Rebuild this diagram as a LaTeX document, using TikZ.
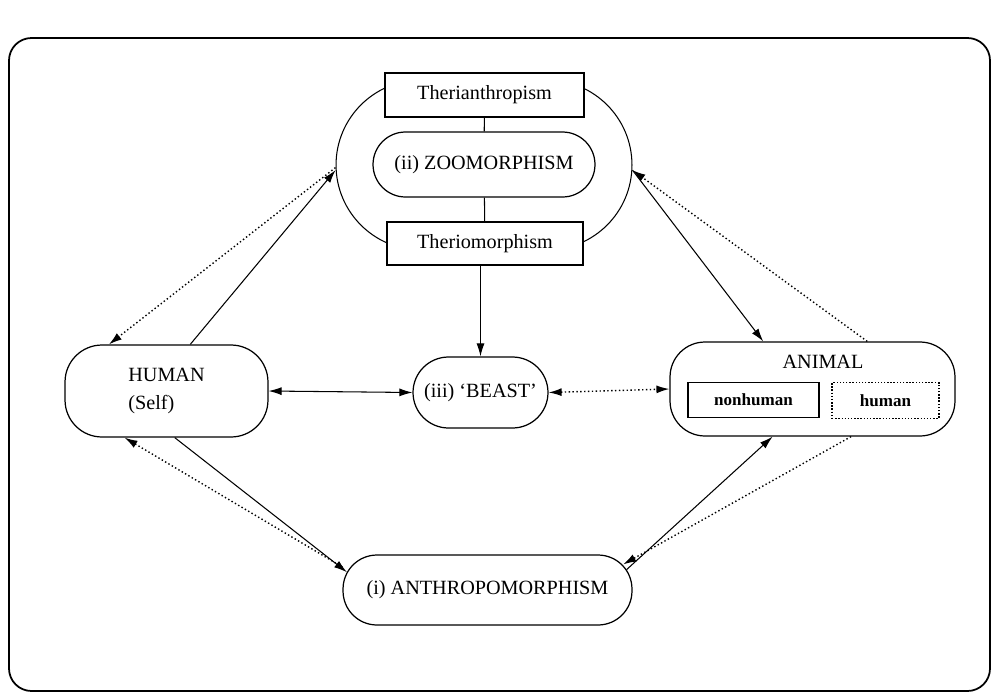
\documentclass[tikz,border=0pt]{standalone}
\usepackage{fontspec}
\setmainfont{Liberation Serif}
\usetikzlibrary{arrows.meta}
\usetikzlibrary{positioning}
\tikzstyle{box}=[draw,line width=0.7pt,fill=white,inner sep=0pt,font=\fontsize{11.5}{13.5}\selectfont]
\tikzstyle{pill}=[box,rounded corners=0.7cm]
\tikzstyle{smallbox}=[draw,line width=0.6pt,inner sep=0pt,minimum height=0.71cm,font=\fontsize{9.7}{11}\selectfont\bfseries]
\tikzstyle{edge}=[draw,line width=0.6pt,-{Latex[length=2.6mm,width=1.6mm]}]
\tikzstyle{dottededge}=[edge,line width=0.8pt,dash pattern=on 0.8pt off 1.4pt]
\tikzstyle{bothedge}=[edge,{Latex[length=2.6mm,width=1.6mm]}-{Latex[length=2.6mm,width=1.6mm]}]

\begin{document}
\begin{tikzpicture}[x=0.02cm,y=-0.02cm]
    \useasboundingbox (0,0) rectangle (997,693);
    % outer frame
    \draw[line width=1pt,rounded corners=0.45cm] (9,38) rectangle (990,691);

    % zoomorphism ring and its boxes
    \node[draw,line width=0.6pt,rounded corners=1.7cm,minimum width=5.92cm,minimum height=3.4cm] (ring) at (484,165) {};
    \node[box,minimum width=3.98cm,minimum height=0.88cm] (ther) at (484.5,95) {Therianthropism};
    \node[pill,rounded corners=0.65cm,minimum width=4.44cm,minimum height=1.3cm] (zoo) at (484,164.5) {(ii) ZOOMORPHISM};
    \node[box,minimum width=3.92cm,minimum height=0.86cm] (therio) at (485,243.5) {Theriomorphism};

    % the three terms
    \node[pill,rounded corners=0.71cm,minimum width=2.7cm,minimum height=1.42cm] (beast) at (480.5,392.5) {(iii) `BEAST'};
    \node[pill,rounded corners=0.74cm,minimum width=4.06cm,minimum height=1.84cm,align=left,font=\fontsize{11.5}{16}\selectfont] (human) at (166.5,391) {HUMAN\\(Self)};
    \node[pill,rounded corners=0.7cm,minimum width=5.7cm,minimum height=1.88cm] (animal) at (812.5,389) {};
    \node[font=\fontsize{11.5}{13.5}\selectfont] (animaltxt) at (823,362) {ANIMAL};
    \node[smallbox,minimum width=2.62cm] (nonhuman) at (753.5,400) {nonhuman};
    \node[smallbox,line width=0.8pt,dash pattern=on 0.8pt off 1pt,minimum width=2.14cm] (humanbox) at (885.5,400.5) {human};
    \node[pill,rounded corners=0.68cm,minimum width=5.78cm,minimum height=1.4cm] (anthro) at (487.5,590) {(i) ANTHROPOMORPHISM};

    % ends on the rounded sides of anthro
    \coordinate (anthroL) at ([xshift=0.09cm]anthro.173);
    \coordinate (anthroR) at ([xshift=-0.12cm]anthro.8);
    \coordinate (anthroRR) at ([xshift=-0.19cm]anthro.10);

    % connectors
    \draw[line width=0.6pt] (ther) -- (zoo);
    \draw[line width=0.6pt] (zoo) -- (therio);
    \path[edge] (therio.south -| beast.north) -- (beast.north);

    \foreach \source/\dest in {human.63/ring.182, ring.358/animal.136,
        human.280/anthroL, anthroR/animal.230}
        \path[edge] (\source) -- (\dest);
    \foreach \source/\dest in {ring.181/human.141, animal.41/ring.358,
        anthro.171/human.228, animal.309/anthroRR}
        \path[dottededge] (\source) -- (\dest);

    \path[bothedge] (human.east) -- (beast.west);
    \path[bothedge,line width=0.8pt,dash pattern=on 0.8pt off 1.4pt] (beast.east) -- (animal.west);
\end{tikzpicture}
\end{document}
